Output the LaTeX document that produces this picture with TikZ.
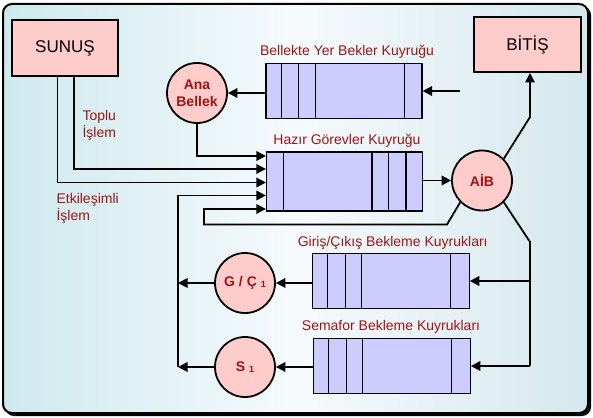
\documentclass[tikz,border=0pt]{standalone}
\usepackage{fontspec}
\setmainfont{Liberation Sans}
\setsansfont{Liberation Sans}
\usetikzlibrary{positioning, arrows.meta, calc}
\definecolor{bgLeft}{HTML}{CDE9EE}
\definecolor{bgMid}{HTML}{F6FAFC}
\definecolor{bgRight}{HTML}{D5E8EE}
\definecolor{boxPink}{HTML}{FFCCCC}
\definecolor{queueBlue}{HTML}{CCCCFF}
\definecolor{textRed}{HTML}{A01414}

\begin{document}
\begin{tikzpicture}[
    x=1pt, y=-1pt,
    font=\sffamily,
    >={Triangle[length=9.5pt, width=9.5pt]},
    wire/.style={line width=1.8pt},
    stateBox/.style={
        draw, line width=2pt, fill=boxPink, inner sep=0pt,
        font=\fontsize{17}{20}\selectfont
    },
    queueBox/.style={
        draw, line width=1.2pt, fill=queueBlue, inner sep=0pt,
        minimum height=55pt
    },
    procCircle/.style={
        circle, draw, line width=1.8pt, fill=boxPink, inner sep=0pt,
        minimum size=60pt, text=textRed, align=center,
        font=\bfseries\fontsize{14}{17}\selectfont
    },
    queueLabel/.style={text=textRed, font=\fontsize{14}{17}\selectfont},
    sideLabel/.style={text=textRed, align=left, anchor=west,
        font=\fontsize{14}{17}\selectfont}
]
\useasboundingbox (0,0) rectangle (593,417);

% frame
\fill[black, rounded corners=9pt] (5,6) rectangle (591,416);
\shade[left color=bgLeft, right color=bgRight, middle color=bgMid,
    rounded corners=9pt, draw=black, line width=2pt] (3,4) rectangle (588,413);

% start / end
\node[stateBox, minimum width=106pt, minimum height=56pt] (sunus) at (65,48) {SUNUŞ};
\node[stateBox, minimum width=107pt, minimum height=55pt] (bitis) at (527.5,44.5) {BİTİŞ};

% queues
\node[queueBox, minimum width=156pt] (bekler) at (344,91) {};
\node[queueBox, minimum width=156pt, minimum height=59pt] (hazir) at (344.5,181.5) {};
\node[queueBox, minimum width=157pt] (gcq) at (390.7,281) {};
\node[queueBox, minimum width=157pt] (semq) at (391.7,366) {};

\foreach \dx in {16, 33, 50, 139}
    \draw[line width=1.2pt] ([xshift=\dx pt]bekler.north west) -- ([xshift=\dx pt]bekler.south west);
\foreach \dx in {17.5, 106, 122.5, 140}
    \draw[line width=1.2pt] ([xshift=\dx pt]hazir.north west) -- ([xshift=\dx pt]hazir.south west);
\foreach \dx in {16, 33.5, 50, 139}
{
    \draw[line width=1.2pt] ([xshift=\dx pt]gcq.north west) -- ([xshift=\dx pt]gcq.south west);
    \draw[line width=1.2pt] ([xshift=\dx pt]semq.north west) -- ([xshift=\dx pt]semq.south west);
}

\node[queueLabel] (beklerText) at (347,51.5) {Bellekte Yer Bekler Kuyruğu};
\node[queueLabel] (hazirText) at (347,140.5) {Hazır Görevler Kuyruğu};
\node[queueLabel] (gcqText) at (392.7,243) {Giriş/Çıkış Bekleme Kuyrukları};
\node[queueLabel] (semqText) at (391,327) {Semafor Bekleme Kuyrukları};

% processors
\node[procCircle] (ana) at (197,93) {Ana\\Bellek};
\node[procCircle] (aib) at (482,180.5) {AİB};
\node[procCircle] (gc) at (245,283) {G / Ç {\fontsize{9}{10}\selectfont\raisebox{-1pt}{1}}};
\node[procCircle] (sem) at (245,367) {S {\fontsize{9}{10}\selectfont\raisebox{-1pt}{1}}};

\node[sideLabel] (toplu) at (79,125) {Toplu\\İşlem};
\node[sideLabel] (etkin) at (53,208.5) {Etkileşimli\\İşlem};

% into memory
\coordinate (bekIn) at (460,91);
\draw[wire, ->] (bekIn) -- (bekler.east |- bekIn);
\draw[wire, ->] (bekler.west |- ana.east) -- (ana.east);

% into ready queue
\draw[wire, ->] (ana.south) |- (hazir.west |- 0,156);
\draw[wire, ->] ([xshift=9pt]sunus.south) |- (hazir.west |- 0,169);
\draw[wire, ->] ([xshift=-7.5pt]sunus.south) |- (hazir.west |- 0,182.5);
\coordinate (backBus) at (178,367);
\draw[wire, ->] (backBus) |- (hazir.west |- 0,195.5);
\coordinate (loopA) at (447,224.5);
\coordinate (loopB) at (204,224.5);
\draw[wire, ->] (aib.south west) -- (loopA) -- (loopB) |- (hazir.west |- 0,209);

% processor
\draw[wire, ->] (hazir.east |- aib.west) -- (aib.west);
\coordinate (upBend) at (530,117);
\draw[wire, ->] (aib.north east) -- (upBend) -- (upBend |- bitis.south);
\coordinate (downBend) at (530,242);
\coordinate (downEnd) at (530,366);
\draw[wire] (aib.south east) -- (downBend) -- (downEnd);
\draw[wire, ->] (downEnd |- gcq.east) -- (gcq.east);
\draw[wire, ->] (downEnd) -- (semq.east);

% waiting queues back to ready
\draw[wire, ->] (gcq.west |- gc.east) -- (gc.east);
\draw[wire, ->] (semq.west |- sem.east) -- (sem.east);
\draw[wire, ->] (gc.west) -- (backBus |- gc.west);
\draw[wire, ->] (sem.west) -- (backBus |- sem.west);

\end{tikzpicture}
\end{document}
